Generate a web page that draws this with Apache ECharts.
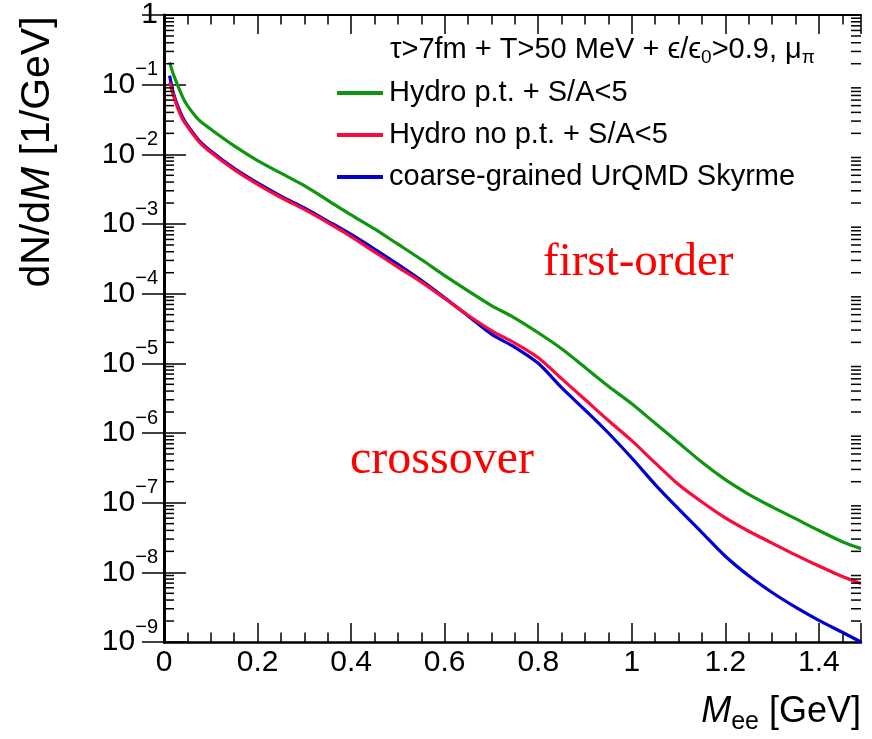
<!DOCTYPE html>
<html>
<head>
<meta charset="utf-8">
<script src="https://cdn.jsdelivr.net/npm/echarts@6/dist/echarts.min.js"></script>
<style>
html,body{margin:0;padding:0;background:#fff;}
#chart{width:872px;height:739px;}
</style>
</head>
<body>
<div id="chart"></div>
<script>
// ---- data ----
const massValues = [0.012, 0.02, 0.03, 0.04, 0.05, 0.075, 0.1, 0.15, 0.2, 0.25, 0.3, 0.35, 0.4, 0.45, 0.5, 0.55, 0.6, 0.65, 0.7, 0.75, 0.8, 0.85, 0.9, 0.95, 1.0, 1.05, 1.1, 1.15, 1.2, 1.25, 1.3, 1.35, 1.4, 1.45, 1.49];
const hydroPT = [2.09e-1, 1.41e-1, 9.55e-2, 6.61e-2, 5.01e-2, 3.09e-2, 2.29e-2, 1.32e-2, 8.13e-3, 5.37e-3, 3.55e-3, 2.19e-3, 1.35e-3, 8.51e-4, 5.13e-4, 3.09e-4, 1.82e-4, 1.10e-4, 6.76e-5, 4.47e-5, 2.75e-5, 1.62e-5, 8.71e-6, 4.68e-6, 2.63e-6, 1.38e-6, 7.24e-7, 3.80e-7, 2.14e-7, 1.32e-7, 8.71e-8, 5.89e-8, 3.98e-8, 2.75e-8, 2.19e-8];
const hydroNoPT = [1.07e-1, 7.08e-2, 4.47e-2, 3.16e-2, 2.51e-2, 1.51e-2, 1.07e-2, 6.03e-3, 3.72e-3, 2.40e-3, 1.62e-3, 1.05e-3, 6.61e-4, 3.98e-4, 2.40e-4, 1.48e-4, 8.51e-5, 4.90e-5, 2.95e-5, 1.95e-5, 1.20e-5, 6.03e-6, 3.02e-6, 1.51e-6, 7.76e-7, 3.72e-7, 1.82e-7, 1.02e-7, 6.03e-8, 3.89e-8, 2.63e-8, 1.78e-8, 1.23e-8, 8.71e-9, 6.92e-9];
const urqmd = [1.35e-1, 7.59e-2, 4.79e-2, 3.39e-2, 2.63e-2, 1.58e-2, 1.12e-2, 6.31e-3, 3.89e-3, 2.51e-3, 1.70e-3, 1.10e-3, 7.08e-4, 4.37e-4, 2.63e-4, 1.55e-4, 8.71e-5, 4.79e-5, 2.63e-5, 1.70e-5, 1.00e-5, 4.47e-6, 2.14e-6, 1.00e-6, 4.37e-7, 1.82e-7, 8.13e-8, 3.72e-8, 1.70e-8, 8.91e-9, 5.13e-9, 3.16e-9, 2.04e-9, 1.38e-9, 1.00e-9];
const seriesNames = ['Hydro p.t. + S/A<5', 'Hydro no p.t. + S/A<5', 'coarse-grained UrQMD Skyrme'];
const seriesColors = ['#0f960f', '#fc0a3c', '#0000d0'];
const xMin = 0, xMax = 1.49, xStep = 0.2;
const yMin = 1e-9, yMax = 1;

// ---- helpers ----
const FONT = "'Liberation Sans', Arial, Helvetica, sans-serif";
const SERIF = "'Liberation Serif', 'Times New Roman', serif";
function zip(xs, ys) { return xs.map((x, i) => [x, ys[i]]); }

// minor tick values for log axis (2..9 x 10^k)
const minorLogTicks = [];
for (let k = -9; k < 0; k++) {
  for (let m = 2; m <= 9; m++) minorLogTicks.push([0, m * Math.pow(10, k)]);
}

const chart = echarts.init(document.getElementById('chart'), null, {renderer: 'canvas'});

const lineSeries = [hydroPT, hydroNoPT, urqmd].map((vals, i) => ({
  name: seriesNames[i],
  type: 'line',
  data: zip(massValues, vals),
  showSymbol: false,
  smooth: 0.3,
  lineStyle: {color: seriesColors[i], width: 3.2},
  itemStyle: {color: seriesColors[i]},
  z: i === 1 ? 4 : 3,
  clip: true
}));

const option = {
  animation: false,
  backgroundColor: '#fff',
  grid: {left: 164, right: 11, top: 12, bottom: 97, containLabel: false},
  legend: {
    orient: 'vertical',
    left: 332,
    top: 73,
    itemWidth: 46,
    itemHeight: 4,
    itemGap: 12,
    icon: 'rect',
    data: seriesNames,
    textStyle: {fontFamily: FONT, fontSize: 29, color: '#000', lineHeight: 30, padding: [0, 0, 0, 1]},
    selectedMode: false
  },
  xAxis: [{
    type: 'value', min: xMin, max: xMax, interval: xStep, position: 'bottom',
    axisLine: {lineStyle: {color: '#000', width: 2.5}},
    axisTick: {inside: true, length: 19, lineStyle: {color: '#000', width: 1.5}},
    minorTick: {show: true, splitNumber: 4, length: 9.5, lineStyle: {color: '#000', width: 1.5}},
    splitLine: {show: false},
    axisLabel: {
      fontFamily: FONT, fontSize: 30, color: '#000', margin: 6,
      showMaxLabel: false,
      formatter: v => (Math.abs(v / xStep - Math.round(v / xStep)) < 1e-6) ? String(+v.toFixed(1)) : ''
    }
  }, {
    type: 'value', min: xMin, max: xMax, interval: xStep, position: 'top',
    axisLine: {lineStyle: {color: '#000', width: 2}},
    axisTick: {inside: true, length: 19, lineStyle: {color: '#000', width: 1.5}},
    minorTick: {show: true, splitNumber: 4, length: 9.5, lineStyle: {color: '#000', width: 1.5}},
    splitLine: {show: false},
    axisLabel: {show: false}
  }],
  yAxis: [{
    type: 'log', logBase: 10, min: yMin, max: yMax, splitNumber: 9, position: 'left',
    axisLine: {lineStyle: {color: '#000', width: 3}},
    axisTick: {inside: true, length: 22, lineStyle: {color: '#000', width: 1.5}},
    splitLine: {show: false},
    axisLabel: {
      margin: 6,
      formatter: v => {
        const e = Math.round(Math.log10(v));
        return e === 0 ? '{a|1}' : '{a|10}{s|\u2212' + (-e) + '}';
      },
      rich: {
        a: {fontFamily: FONT, fontSize: 30, color: '#000', verticalAlign: 'bottom', lineHeight: 30},
        s: {fontFamily: FONT, fontSize: 20, color: '#000', verticalAlign: 'top', lineHeight: 20, padding: [-10, 0, 0, 0]}
      }
    }
  }, {
    type: 'log', logBase: 10, min: yMin, max: yMax, splitNumber: 9, position: 'right',
    axisLine: {lineStyle: {color: '#000', width: 2}},
    axisTick: {inside: true, length: 22, lineStyle: {color: '#000', width: 1.5}},
    splitLine: {show: false},
    axisLabel: {show: false}
  }],
  series: lineSeries.concat([{
    type: 'custom',
    name: 'minorTicks',
    coordinateSystem: 'cartesian2d',
    xAxisIndex: 0, yAxisIndex: 0,
    silent: true,
    clip: false,
    data: minorLogTicks,
    renderItem: (params, api) => {
      const v = api.value(1);
      const pl = api.coord([xMin, v]);
      const pr = api.coord([xMax, v]);
      const st = {stroke: '#000', lineWidth: 1.5};
      return {
        type: 'group',
        children: [
          {type: 'line', shape: {x1: pl[0], y1: pl[1], x2: pl[0] + 10, y2: pl[1]}, style: st},
          {type: 'line', shape: {x1: pr[0], y1: pr[1], x2: pr[0] - 10, y2: pr[1]}, style: st}
        ]
      };
    },
    z: 5
  }]),
  graphic: [
    {
      type: 'text', x: 390, y: 50,
      style: {
        text: '\u03c4>7fm + T>50 MeV + \u03f5/\u03f5{sub|0}>0.9, \u03bc{sub|\u03c0}',
        fontFamily: FONT, fontSize: 29, fill: '#000', verticalAlign: 'middle',
        rich: {sub: {fontFamily: FONT, fontSize: 19, fill: '#000', padding: [16, 0, 0, 0]}}
      }
    },
    {
      type: 'text', x: 543, y: 263,
      style: {text: 'first-order', fontFamily: SERIF, fontSize: 47, fill: '#ff0000', verticalAlign: 'middle'}
    },
    {
      type: 'text', x: 350, y: 460,
      style: {text: 'crossover', fontFamily: SERIF, fontSize: 48, fill: '#ff0000', verticalAlign: 'middle'}
    },
    {
      type: 'text', x: 38, y: 152, rotation: Math.PI / 2,
      style: {
        text: 'dN/d{i|M} [1/GeV]', fontFamily: FONT, fontSize: 41, fill: '#000',
        align: 'center', verticalAlign: 'middle',
        rich: {i: {fontFamily: FONT, fontSize: 41, fontStyle: 'italic', fill: '#000'}}
      }
    },
    {
      type: 'text', x: 861, y: 712,
      style: {
        text: '{i|M}{sub|ee} [GeV]', fontFamily: FONT, fontSize: 36, fill: '#000',
        align: 'right', verticalAlign: 'middle',
        rich: {
          i: {fontFamily: FONT, fontSize: 36, fontStyle: 'italic', fill: '#000'},
          sub: {fontFamily: FONT, fontSize: 25, fill: '#000', padding: [20, 0, 0, 0]}
        }
      }
    }
  ]
};
chart.setOption(option);
</script>
</body>
</html>
